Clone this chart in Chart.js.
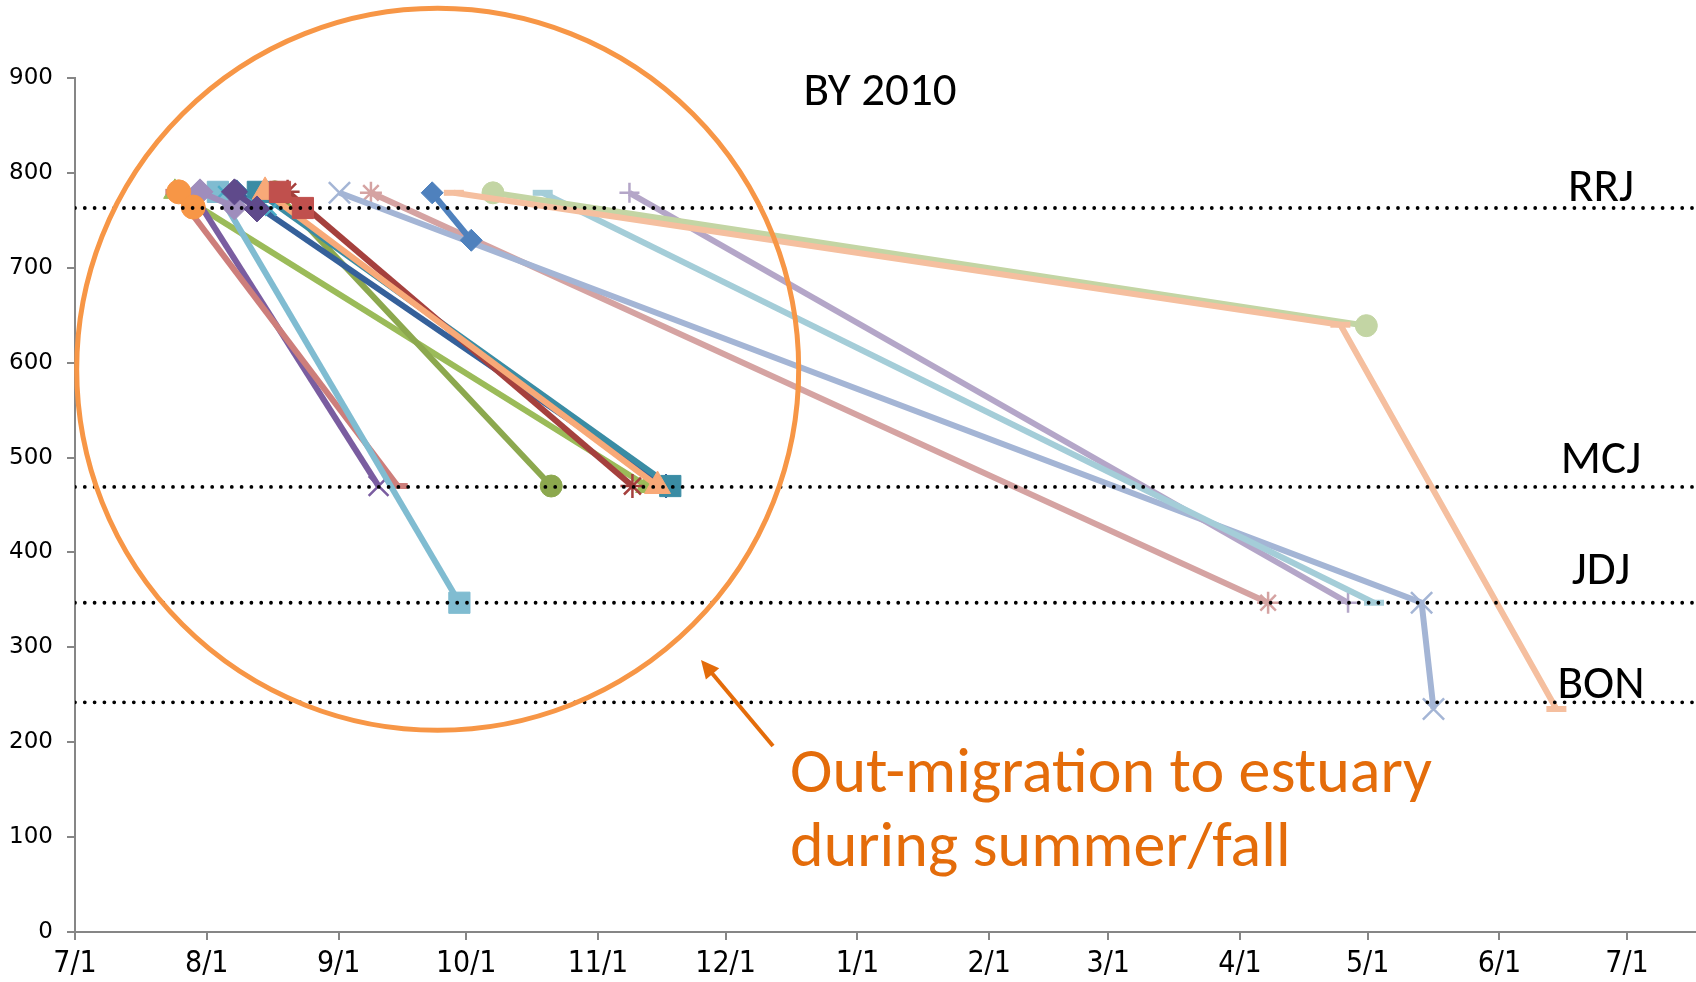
<!DOCTYPE html>
<html>
<head>
<meta charset="utf-8">
<title>BY 2010</title>
<script src="https://cdn.jsdelivr.net/npm/chart.js@4.4.1/dist/chart.umd.min.js"></script>
<style>
    html, body { margin: 0; padding: 0; background: #fff; }
    #wrap { width: 1696px; height: 982px; }
</style>
</head>
<body>
<div id="wrap"><canvas id="migrationChart" width="1696" height="982"></canvas></div>
<script>
// Fish tracks, BY 2010: x = days after 7/1/2010, y = river km

const monthTickDays = [0, 31, 62, 92, 123, 153, 184, 215, 243, 274, 304, 335, 365];
const monthTickLabels = ['7/1', '8/1', '9/1', '10/1', '11/1', '12/1', '1/1', '2/1', '3/1', '4/1', '5/1', '6/1', '7/1'];
const xMaxDay = 381;

const stationNames = ['RRJ', 'MCJ', 'JDJ', 'BON'];
const stationRkm = [763, 469, 347, 242];

// listed bottom -> top
const fishDays = [
    [69.6, 280.6],
    [62.2, 316.7, 319.5],
    [130.4, 299.4],
    [110, 305.5],
    [98.3, 303.7],
    [89.1, 297.6, 348.4],
    [84, 93.2],
    [23.5, 134.5],
    [47, 112],
    [27.5, 71.4],
    [23.6, 75.9],
    [33.6, 90.4],
    [38, 139],
    [43, 140],
    [50, 131.1],
    [44.7, 137],
    [35, 46],
    [29.4, 37.5],
    [37.5, 42.8],
    [48.2, 53.6],
    [24.4, 27.8]
];
const fishRkm = [
    [779, 347],
    [779, 347, 235],
    [779, 347],
    [779, 347],
    [779, 639],
    [779, 640, 235],
    [779, 729],
    [780, 470],
    [780, 470],
    [780, 470],
    [780, 470],
    [780, 347],
    [780, 470],
    [780, 470],
    [780, 470],
    [780, 470],
    [780, 761],
    [780, 764],
    [780, 762],
    [780, 763],
    [780, 764]
];

const fishColors = [
    '#D5A3A2', '#A4B5D5', '#B4A6C8', '#A4CDD8', '#C3D5A4', '#F5BF9F', '#4F81BD',
    '#9BBB59', '#8CA84E', '#7A5DA0', '#CD7E7B', '#80BCD1', '#35609A', '#3A8CA4',
    '#A5403D', '#F8A978', '#4BACC6', '#9F8DBC', '#5F4A8B', '#C0504D', '#F79646'
];
const fishMarkers = [
    'star', 'x', 'plus', 'dash', 'circle', 'dash', 'diamond',
    'triangle', 'circle', 'x', 'dash', 'square', 'diamond', 'square',
    'star', 'triangle', 'x', 'diamond', 'diamond', 'square', 'circle'
];
const fishMarkerSizes = [
    11, 15, 10, 10, 11, 10, 11,
    13, 11, 14, 10, 15, 12, 15,
    12, 15, 8, 13, 13, 15, 12
];

const pointStyles = {
    diamond: 'rectRot', square: 'rect', triangle: 'triangle', x: 'crossRot',
    star: 'star', circle: 'circle', plus: 'cross', dash: 'line'
};
const strokedMarkers = ['x', 'star', 'plus', 'dash'];

function buildFishDatasets() {
    const n = fishDays.length;
    return fishDays.map((days, i) => {
        const marker = fishMarkers[i];
        const stroked = strokedMarkers.includes(marker);
        return {
            label: 'fish ' + (i + 1),
            data: days.map((d, j) => ({ x: d, y: fishRkm[i][j] })),
            showLine: true,
            borderColor: fishColors[i],
            backgroundColor: fishColors[i],
            borderWidth: 6,
            pointStyle: pointStyles[marker],
            pointRadius: fishMarkerSizes[i],
            pointBackgroundColor: fishColors[i],
            pointBorderColor: fishColors[i],
            pointBorderWidth: marker === 'dash' ? 6 : (stroked ? 2.5 : 1),
            clip: false,
            order: n - i
        };
    });
}

function buildStationDatasets() {
    return stationRkm.map((rkm, i) => ({
        label: stationNames[i],
        data: [{ x: 0, y: rkm }, { x: xMaxDay, y: rkm }],
        showLine: true,
        borderColor: '#000',
        borderWidth: 3.8,
        borderDash: [0, 9.8],
        borderCapStyle: 'round',
        pointRadius: 0,
        order: -1
    }));
}

// text, circle and arrow drawn over the plot
const annotationPlugin = {
    id: 'annotations',
    afterDraw(chart) {
        const ctx = chart.ctx;
        const xs = chart.scales.x;
        const ys = chart.scales.y;
        ctx.save();

        // big circle round the summer/fall group
        ctx.beginPath();
        ctx.arc(xs.getPixelForValue(85.3), ys.getPixelForValue(593), 361, 0, Math.PI * 2);
        ctx.strokeStyle = '#F79646';
        ctx.lineWidth = 5;
        ctx.stroke();

        ctx.fillStyle = '#000';
        ctx.textAlign = 'center';
        ctx.textBaseline = 'alphabetic';
        ctx.font = '47px Carlito, Lato, "Open Sans", sans-serif';
        ctx.fillText('BY 2010', 880, 105);

        const labelBaselines = [201, 473, 584, 698];
        stationNames.forEach((name, i) => {
            ctx.fillText(name, 1601, labelBaselines[i]);
        });

        // arrow
        const tail = { x: 773, y: 746 };
        const head = { x: 701, y: 660 };
        const ang = Math.atan2(head.y - tail.y, head.x - tail.x);
        ctx.strokeStyle = '#E46C0A';
        ctx.fillStyle = '#E46C0A';
        ctx.lineWidth = 4;
        ctx.beginPath();
        ctx.moveTo(tail.x, tail.y);
        ctx.lineTo(head.x - Math.cos(ang) * 10, head.y - Math.sin(ang) * 10);
        ctx.stroke();
        ctx.beginPath();
        ctx.moveTo(head.x, head.y);
        ctx.lineTo(head.x - Math.cos(ang - 0.45) * 20, head.y - Math.sin(ang - 0.45) * 20);
        ctx.lineTo(head.x - Math.cos(ang + 0.45) * 20, head.y - Math.sin(ang + 0.45) * 20);
        ctx.closePath();
        ctx.fill();

        ctx.textAlign = 'left';
        ctx.font = '64px Carlito, Lato, "Open Sans", sans-serif';
        ctx.fillText('Out-migration to estuary', 790, 792);
        ctx.fillText('during summer/fall', 790, 866);

        ctx.restore();
    }
};

document.addEventListener('DOMContentLoaded', () => {
    const ctx = document.getElementById('migrationChart');

    new Chart(ctx, {
        type: 'scatter',
        data: {
            datasets: buildStationDatasets().concat(buildFishDatasets())
        },
        options: {
            responsive: false,
            animation: false,
            events: [],
            layout: { autoPadding: false, padding: { top: 78, right: 1, left: 0, bottom: 0 } },
            plugins: {
                legend: { display: false },
                tooltip: { enabled: false }
            },
            scales: {
                x: {
                    type: 'linear',
                    min: 0,
                    max: xMaxDay,
                    afterBuildTicks: (axis) => {
                        axis.ticks = monthTickDays.map(v => ({ value: v }));
                    },
                    afterFit: (scale) => { scale.height = 50; },
                    ticks: {
                        autoSkip: false,
                        maxRotation: 0,
                        padding: 6,
                        color: '#000',
                        font: { family: '"Liberation Sans Narrow", "DejaVu Sans Condensed", sans-serif', size: 30 },
                        callback: (value) => {
                            const idx = monthTickDays.indexOf(value);
                            return idx >= 0 ? monthTickLabels[idx] : '';
                        }
                    },
                    grid: { display: true, drawOnChartArea: false, drawTicks: true, tickLength: 8, color: '#868686', lineWidth: 2 },
                    border: { display: true, color: '#868686', width: 2 }
                },
                y: {
                    min: 0,
                    max: 900,
                    afterFit: (scale) => { scale.width = 75; },
                    ticks: {
                        stepSize: 100,
                        padding: 14,
                        color: '#000',
                        font: { family: '"DejaVu Sans", sans-serif', size: 23 }
                    },
                    grid: { display: true, drawOnChartArea: false, drawTicks: true, tickLength: 8, color: '#868686', lineWidth: 2 },
                    border: { display: true, color: '#868686', width: 2 }
                }
            }
        },
        plugins: [annotationPlugin]
    });
});
</script>
</body>
</html>
